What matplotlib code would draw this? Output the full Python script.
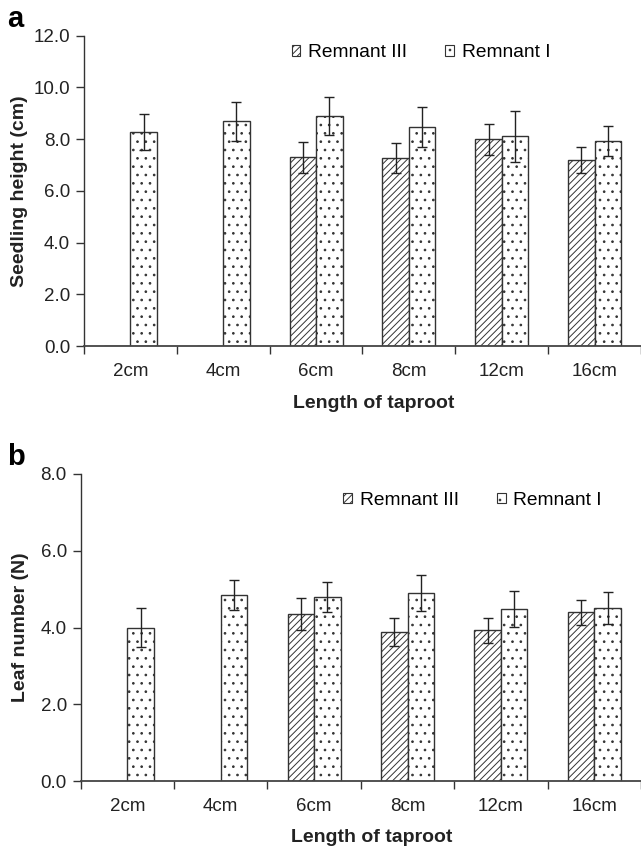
import matplotlib
matplotlib.use("Agg")
import matplotlib.pyplot as plt
import numpy as np
from matplotlib.patches import Patch

# data
categories = ["2cm", "4cm", "6cm", "8cm", "12cm", "16cm"]
series_names = ["Remnant III", "Remnant I"]

height_r3 = [0, 0, 7.30, 7.26, 8.00, 7.20]
height_r3_err = [0, 0, 0.60, 0.57, 0.60, 0.50]
height_r1 = [8.28, 8.69, 8.88, 8.46, 8.10, 7.94]
height_r1_err = [0.70, 0.76, 0.73, 0.77, 1.00, 0.58]

leaf_r3 = [0, 0, 4.35, 3.88, 3.93, 4.40]
leaf_r3_err = [0, 0, 0.42, 0.37, 0.32, 0.32]
leaf_r1 = [4.00, 4.85, 4.80, 4.91, 4.48, 4.51]
leaf_r1_err = [0.50, 0.38, 0.40, 0.47, 0.47, 0.41]

plt.rcParams["font.family"] = ["Liberation Sans", "DejaVu Sans"]
plt.rcParams["hatch.linewidth"] = 0.7
plt.rcParams["hatch.color"] = "#222222"

EDGE = "#333333"
HATCHES = ["/////", ".."]
BAR_W = 0.285


def draw_panel(ax, v3, e3, v1, e1, ymax, ylabel, legend_xy, ylabel_x, xlabel_xy):
    x = np.arange(len(categories))
    for vals, errs, offs, hatch in [(v3, e3, -BAR_W / 2, HATCHES[0]),
                                    (v1, e1, BAR_W / 2, HATCHES[1])]:
        vals = np.array(vals, dtype=float)
        errs = np.array(errs, dtype=float)
        ax.bar(x + offs, vals, BAR_W, facecolor="white", edgecolor=EDGE,
               linewidth=1.0, hatch=hatch, zorder=2)
        m = vals > 0
        ax.errorbar(x[m] + offs, vals[m], yerr=errs[m], fmt="none",
                    ecolor="#222222", elinewidth=1.0, capsize=3.5,
                    capthick=1.0, zorder=3)

    ax.set_xlim(-0.5, len(categories) - 0.5)
    ax.set_ylim(0, ymax)
    ax.set_yticks(np.arange(0, ymax + 0.01, 2))
    ax.set_yticklabels([f"{v:.1f}" for v in np.arange(0, ymax + 0.01, 2)])
    ax.set_xticks(x)
    ax.set_xticklabels(categories)
    ax.set_xticks(np.arange(-0.5, len(categories), 1), minor=True)
    ax.tick_params(axis="x", which="major", length=0, pad=12, labelsize=13.5,
                   colors="#222222")
    ax.tick_params(axis="x", which="minor", length=6, width=1.0,
                   direction="out", color="#333333")
    ax.tick_params(axis="y", length=6, width=1.0, pad=4, labelsize=13.5,
                   color="#333333", labelcolor="#222222")

    for s in ["top", "right"]:
        ax.spines[s].set_visible(False)
    ax.spines["left"].set_color("#333333")
    ax.spines["bottom"].set_color("#444444")
    ax.spines["left"].set_linewidth(1.0)
    ax.spines["bottom"].set_linewidth(1.3)

    ax.set_ylabel(ylabel, fontsize=14, fontweight="bold", color="#222222")
    ax.yaxis.set_label_coords(ylabel_x, 0.5)
    ax.set_xlabel("Length of taproot", fontsize=14, fontweight="bold",
                  color="#222222")
    ax.xaxis.set_label_coords(*xlabel_xy)

    handles = [Patch(facecolor="white", edgecolor=EDGE, hatch=h, linewidth=0.8)
               for h in HATCHES]
    ax.legend(handles, series_names, loc="center left",
              bbox_to_anchor=legend_xy, ncol=2, frameon=False, fontsize=13.8,
              handlelength=0.45, handleheight=0.45, handletextpad=0.4,
              columnspacing=2.0, borderpad=0, borderaxespad=0)


fig = plt.figure(figsize=(6.41, 8.5), dpi=100)
ax_a = fig.add_axes([0.131, 0.5929, 0.869, 0.3653])
ax_b = fig.add_axes([0.1259, 0.0808, 0.874, 0.3616])

draw_panel(ax_a, height_r3, height_r3_err, height_r1, height_r1_err, 12,
           "Seedling height (cm)", (0.373, 0.944), -0.100, (0.52, -0.158))
draw_panel(ax_b, leaf_r3, leaf_r3_err, leaf_r1, leaf_r1_err, 8,
           "Leaf number (N)", (0.469, 0.915), -0.093, (0.519, -0.155))

fig.text(7 / 641, 1 - 27 / 850, "a", fontsize=21, fontweight="bold",
         va="baseline")
fig.text(7 / 641, 1 - 465 / 850, "b", fontsize=21, fontweight="bold",
         va="baseline")

fig.savefig("out.png", dpi=100)
